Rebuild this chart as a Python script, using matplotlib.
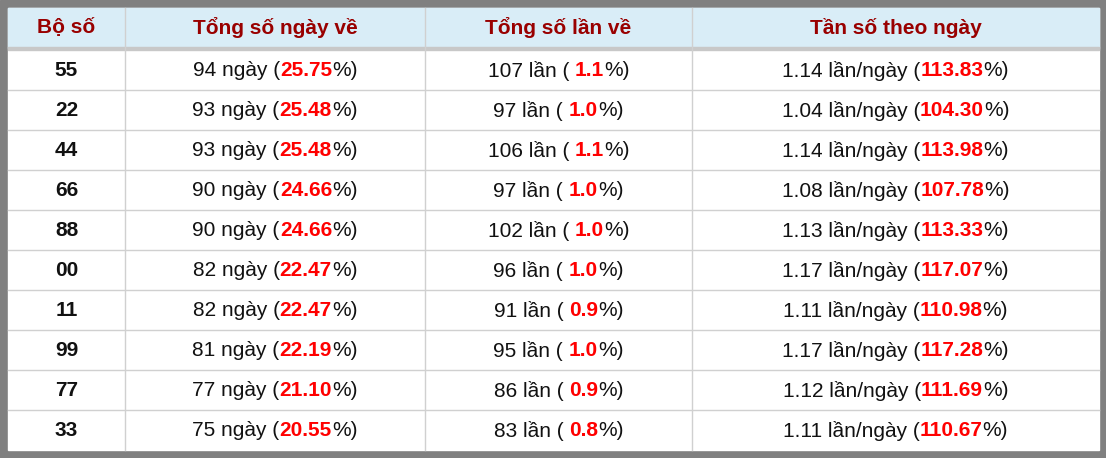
import matplotlib
matplotlib.use("Agg")
import matplotlib.pyplot as plt
from matplotlib.patches import Rectangle

headers = ["Bộ số", "Tổng số ngày về", "Tổng số lần về", "Tần số theo ngày"]
bo_so = ["55", "22", "44", "66", "88", "00", "11", "99", "77", "33"]
ngay = [94, 93, 93, 90, 90, 82, 82, 81, 77, 75]
ngay_pct = ["25.75", "25.48", "25.48", "24.66", "24.66", "22.47", "22.47", "22.19", "21.10", "20.55"]
lan = [107, 97, 106, 97, 102, 96, 91, 95, 86, 83]
lan_pct = ["1.1", "1.0", "1.1", "1.0", "1.0", "1.0", "0.9", "1.0", "0.9", "0.8"]
tan_so = ["1.14", "1.04", "1.14", "1.08", "1.13", "1.17", "1.11", "1.17", "1.12", "1.11"]
tan_pct = ["113.83", "104.30", "113.98", "107.78", "113.33", "117.07", "110.98", "117.28", "111.69", "110.67"]

plt.rcParams['font.family'] = ['Liberation Sans', 'DejaVu Sans']
W, H = 1106, 458
fig = plt.figure(figsize=(W/100, H/100), dpi=100)
ax = fig.add_axes([0, 0, 1, 1])
ax.set_xlim(0, W); ax.set_ylim(H, 0); ax.axis("off")

ax.add_patch(Rectangle((0, 0), W, H, color="#808080"))
L, R, T, B = 8, 1099, 8, 450
ax.add_patch(Rectangle((L, T), R-L, B-T, color="white"))
ax.add_patch(Rectangle((L, T), R-L, 40, color="#d9edf7"))
ax.add_patch(Rectangle((L, 47), R-L, 3, color="#c8c8c8"))
cols = [8, 125, 425, 692, 1099]
row_h = 40
for x in cols[1:-1]:
    ax.plot([x, x], [T, B], color="#d0d0d0", lw=1)
for i in range(1, 10):
    y = 50 + i*row_h
    ax.plot([L, R], [y, y], color="#d0d0d0", lw=1)

fs = 15
for j, h in enumerate(headers):
    ax.text((cols[j]+cols[j+1])/2, 28, h, ha="center", va="center", fontsize=fs,
            fontweight="bold", color="#990000")

fig.canvas.draw()
renderer = fig.canvas.get_renderer()

def segs(xc, y, parts):
    objs = []
    for s, c, b in parts:
        t = ax.text(0, y, s, ha="left", va="center", fontsize=fs, color=c,
                    fontweight="bold" if b else "normal")
        objs.append(t)
    widths = [t.get_window_extent(renderer).width for t in objs]
    total = sum(widths)
    x = xc - total/2
    for t, w in zip(objs, widths):
        t.set_x(x); x += w

red = "#ff0000"; blk = "#111111"
for i in range(10):
    y = 50 + i*row_h + row_h/2 + 1
    ax.text((cols[0]+cols[1])/2, y, bo_so[i], ha="center", va="center",
            fontsize=fs, fontweight="bold", color=blk)
    segs((cols[1]+cols[2])/2, y, [(f"{ngay[i]} ngày\u00a0(", blk, False), (ngay_pct[i], red, True), ("%)", blk, False)])
    segs((cols[2]+cols[3])/2, y, [(f"{lan[i]} lần (\u00a0", blk, False), (lan_pct[i], red, True), ("%)", blk, False)])
    segs((cols[3]+cols[4])/2, y, [(f"{tan_so[i]} lần/ngày\u00a0(", blk, False), (tan_pct[i], red, True), ("%)", blk, False)])

fig.savefig("out.png", dpi=100)
